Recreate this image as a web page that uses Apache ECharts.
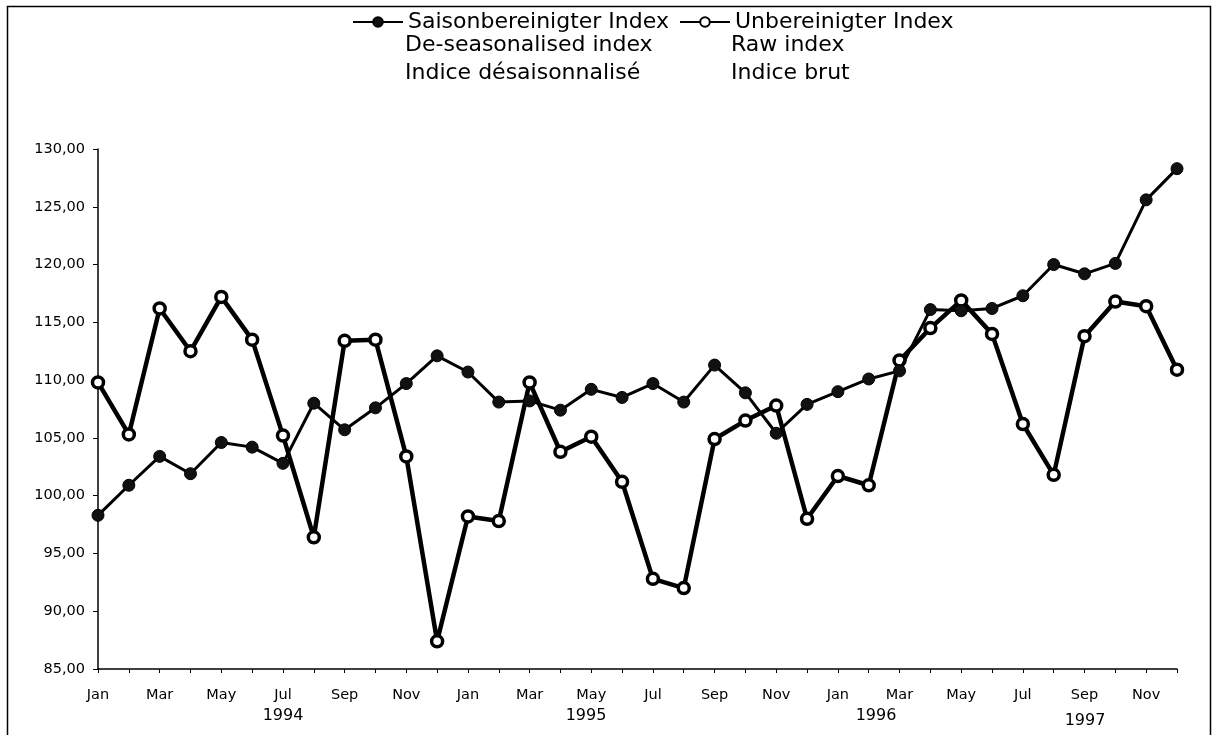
<!DOCTYPE html>
<html>
<head>
<meta charset="utf-8">
<script src="https://cdn.jsdelivr.net/npm/echarts@6/dist/echarts.min.js"></script>
<style>
  html, body { margin: 0; padding: 0; background: #fff; }
  #chart-container { width: 1217px; height: 735px; }
</style>
</head>
<body>
<div id="chart-container"></div>
<script>
// months Jan 1994 .. Dec 1996
const months = ['Jan','Feb','Mar','Apr','May','Jun','Jul','Aug','Sep','Oct','Nov','Dec',
  'Jan','Feb','Mar','Apr','May','Jun','Jul','Aug','Sep','Oct','Nov','Dec',
  'Jan','Feb','Mar','Apr','May','Jun','Jul','Aug','Sep','Oct','Nov','Dec'];

const seasonal = [98.3, 100.9, 103.4, 101.9, 104.6, 104.2, 102.8, 108.0, 105.7, 107.6, 109.7, 112.1,
  110.7, 108.1, 108.2, 107.4, 109.2, 108.5, 109.7, 108.1, 111.3, 108.9, 105.4, 107.9,
  109.0, 110.1, 110.8, 116.1, 116.0, 116.2, 117.3, 120.0, 119.2, 120.1, 125.6, 128.3];

const raw = [109.8, 105.3, 116.2, 112.5, 117.2, 113.5, 105.2, 96.4, 113.4, 113.5, 103.4, 87.4,
  98.2, 97.8, 109.8, 103.8, 105.1, 101.2, 92.8, 92.0, 104.9, 106.5, 107.8, 98.0,
  101.7, 100.9, 111.7, 114.5, 116.9, 114.0, 106.2, 101.8, 113.8, 116.8, 116.4, 110.9];

const yearLabels = ['1994', '1995', '1996', '1997'];

const seriesNames = ['Saisonbereinigter Index', 'Unbereinigter Index'];
const subNames1 = ['De-seasonalised index', 'Indice désaisonnalisé'];
const subNames2 = ['Raw index', 'Indice brut'];

const font = '"DejaVu Sans", sans-serif';

const chart = echarts.init(document.getElementById('chart-container'));

const option = {
  backgroundColor: '#fff',
  animation: false,
  textStyle: { fontFamily: font },
  legend: [
    {
      data: [seriesNames[0]],
      left: 347, top: 6,
      itemWidth: 50, itemHeight: 12,
      textStyle: { fontSize: 22, color: '#000', fontFamily: font }
    },
    {
      data: [seriesNames[1]],
      left: 674, top: 6,
      itemWidth: 50, itemHeight: 12,
      textStyle: { fontSize: 22, color: '#000', fontFamily: font }
    }
  ],
  grid: { left: 98, right: 40, top: 149, bottom: 66, containLabel: false },
  xAxis: {
    type: 'category',
    data: months,
    boundaryGap: false,
    axisLine: { lineStyle: { color: '#000', width: 1.5 } },
    axisTick: { show: true, interval: 0, length: 4, lineStyle: { color: '#000' } },
    axisLabel: { interval: 1, color: '#000', fontSize: 14.5, margin: 19, fontFamily: font },
    splitLine: { show: false }
  },
  yAxis: {
    type: 'value',
    min: 85, max: 130, interval: 5,
    axisLine: { show: true, lineStyle: { color: '#000', width: 1.5 } },
    axisTick: { show: true, length: 5, lineStyle: { color: '#000' } },
    axisLabel: {
      color: '#000', fontSize: 14.5, margin: 13, fontFamily: font,
      formatter: v => v.toFixed(2).replace('.', ',')
    },
    splitLine: { show: false }
  },
  series: [
    {
      name: seriesNames[0],
      type: 'line',
      data: seasonal,
      symbol: 'circle',
      symbolSize: 12,
      lineStyle: { color: '#000', width: 3 },
      itemStyle: { color: '#111', borderColor: '#000', borderWidth: 1 },
      z: 3
    },
    {
      name: seriesNames[1],
      type: 'line',
      data: raw,
      symbol: 'circle',
      symbolSize: 11,
      lineStyle: { color: '#000', width: 4.5 },
      itemStyle: { color: '#fff', borderColor: '#000', borderWidth: 3.5 },
      z: 2
    }
  ],
  graphic: [
    { type: 'rect', shape: { x: 7.5, y: 6.5, width: 1203, height: 740 }, style: { fill: null, stroke: '#000', lineWidth: 1.5 } },
    { type: 'text', left: 405, top: 34, style: { text: subNames1[0], font: '22px ' + font, fill: '#000' } },
    { type: 'text', left: 405, top: 62, style: { text: subNames1[1], font: '22px ' + font, fill: '#000' } },
    { type: 'text', left: 731, top: 34, style: { text: subNames2[0], font: '22px ' + font, fill: '#000' } },
    { type: 'text', left: 731, top: 62, style: { text: subNames2[1], font: '22px ' + font, fill: '#000' } },
    { type: 'text', x: 283, y: 716, style: { text: yearLabels[0], font: '16px ' + font, fill: '#000', align: 'center', verticalAlign: 'middle' } },
    { type: 'text', x: 586, y: 716, style: { text: yearLabels[1], font: '16px ' + font, fill: '#000', align: 'center', verticalAlign: 'middle' } },
    { type: 'text', x: 876, y: 716, style: { text: yearLabels[2], font: '16px ' + font, fill: '#000', align: 'center', verticalAlign: 'middle' } },
    { type: 'text', x: 1085, y: 721, style: { text: yearLabels[3], font: '16px ' + font, fill: '#000', align: 'center', verticalAlign: 'middle' } }
  ]
};

chart.setOption(option);
</script>
</body>
</html>
